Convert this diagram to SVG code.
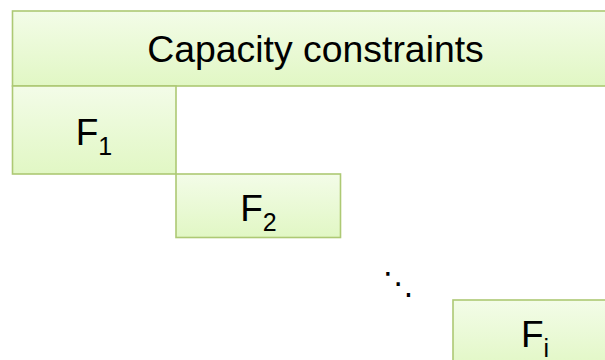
<svg xmlns="http://www.w3.org/2000/svg" width="605" height="360" viewBox="0 0 605 360">
<defs>
<linearGradient id="g" x1="0" y1="0" x2="0" y2="1">
<stop offset="0" stop-color="#f3fce8"/>
<stop offset="1" stop-color="#e1f7c4"/>
</linearGradient>
<style>
.box{fill:url(#g);stroke:#adc974;stroke-width:1.6}
.t{font-family:"Liberation Sans",Arial,sans-serif;font-size:37px;fill:#000}
.s{font-size:25px}
</style>
</defs>
<rect width="605" height="360" fill="#fff"/>
<g id="capacity">
<rect class="box" x="12.5" y="11" width="606" height="75"/>
<text class="t" x="315.5" y="61.5" text-anchor="middle" style="font-size:37.4px">Capacity constraints</text>
</g>
<g id="F1">
<rect class="box" x="12.5" y="86" width="163.5" height="88"/>
<text class="t" x="94" y="145" text-anchor="middle">F<tspan class="s" dy="10">1</tspan></text>
</g>
<g id="F2">
<rect class="box" x="176" y="174" width="164.5" height="63.5"/>
<text class="t" x="258.5" y="221" text-anchor="middle">F<tspan class="s" dy="10">2</tspan></text>
</g>
<g id="dots">
<text x="382.5" y="294" style="font-family:'DejaVu Sans',sans-serif;font-size:31px">⋱</text>
</g>
<g id="Fi">
<rect class="box" x="453" y="300" width="164" height="70"/>
<text class="t" x="535" y="346.5" text-anchor="middle">F<tspan class="s" dy="10">i</tspan></text>
</g>
<g id="connectors"/>
</svg>
